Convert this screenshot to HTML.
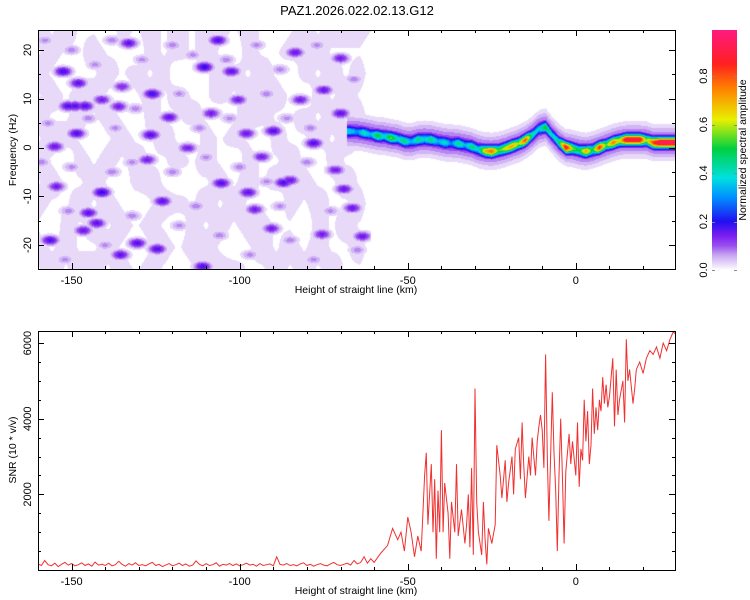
<!DOCTYPE html>
<html><head><meta charset="utf-8"><style>
html,body{margin:0;padding:0;background:#fff;}
#wrap{position:relative;width:750px;height:600px;overflow:hidden;font-family:"Liberation Sans",sans-serif;}
canvas{position:absolute;left:38px;top:30px;}
svg{position:absolute;left:0;top:0;}
</style></head><body>
<div id="wrap">
<canvas id="cv" width="637" height="239"></canvas>
<svg id="sv" width="750" height="600"></svg>
</div>
<script>
// ---- data ----
const ridgeKm  = [-67,-65,-63,-61,-59,-57,-55,-53,-51,-49,-47,-45,-43,-41,-39,-37,-35,-33,-31,-29,-27,-25,-23,-21,-19,-17,-15,-13,-11,-9,-7,-5,-3,-1,1,3,5,7,9,11,13,15,17,19,21,23,25,27,29.5];
const ridgeHz  = [3.3,3.2,3.0,2.7,2.4,2.3,2.0,1.8,1.3,1.2,1.6,1.7,1.6,1.3,1.0,0.9,0.8,0.5,0.2,-0.4,-0.7,-0.8,-0.6,-0.2,0.3,0.8,1.5,2.5,3.8,4.2,2.5,1.0,0.0,-0.2,-0.6,-0.8,-0.5,0.0,0.5,1.0,1.4,1.6,1.6,1.6,1.5,1.0,1.0,1.0,1.0];
const ridgeAmp = [0.4,0.32,0.45,0.35,0.55,0.4,0.58,0.42,0.5,0.35,0.5,0.4,0.5,0.35,0.45,0.3,0.5,0.35,0.5,0.4,0.7,0.82,0.55,0.65,0.75,0.6,0.85,0.45,0.4,0.55,0.4,0.5,0.95,0.6,0.5,0.75,0.5,0.9,0.55,0.8,0.65,0.95,0.95,0.95,0.6,0.85,1.0,1.0,1.0];
const noiseGrid = [
"2121102121212212101212221",
"1211211021212102112121110",
"2101121212011221210212120",
"1212210121211212121021210",
"2112121021121012211212120",
"1221012112102121021121210",
"2102121211212102112102110",
"1211210221011212121211210",
"2112121012212121102121120",
"1021212121021212211021210",
"2121121012122101212121120",
"1212212121011221121212110"
];
const blobKm = [-152.5,-148,-149,-148.5,-155,-156.4,-141,-145,-142.5,-133,-126,-126.5,-121,-130.5,-124.5,-123,-135.5,-110.5,-106.5,-102.5,-105.5,-97.5,-98,-90,-87,-83.5,-78,-75,-70,-69,-66.5,-63.5,-70,-82,-85,-111,-75.5,-95.5,-115.5,-108.5,-100.5,-136,-135,-127.5,-146.5,-154.5,-141,-93.5,-90.5,-71.5,-151,-146,
-158,-150,-143,-138,-129,-120,-114,-104,-95,-88,-77,-66,-157,-145,-137,-131,-118,-112,-103,-92,-86,-79,-66,-159,-150,-138,-132,-120,-110,-100,-92,-80,-73,-151,-140,-132,-118,-106,-97,-85,-78,-65,-152,-113,-88];
const blobHz = [15.6,13.2,8.5,2.9,0.2,-19,-9.2,-13.4,-15.5,21.4,11,2.6,6.2,-19.6,-20.8,-11,-22,16.5,22,15.6,-7.3,-9.2,2.9,3.4,-7.2,19.5,0.9,11.8,7,-8.5,-12.4,-18.2,18.3,9.8,-6.7,-24.4,-17.8,-12.7,-0.1,7,9.8,8.4,12.5,-2.5,-17,-8,9.8,-1.9,-16.6,-4.6,8.5,8.5,
22,20,17,22,18,21,19,18,21,16,21,14,5,6,4,8,11,4,6,11,6,4,2,-3,-4,-5,-3,-5,-2,-4,-7,-3,-13,-13,-20,-14,-16,-18,-22,-19,-23,-21,-23,-12,-12];
const blobAmp = [0.2,0.18,0.19,0.19,0.17,0.19,0.21,0.18,0.18,0.18,0.2,0.19,0.18,0.19,0.19,0.18,0.18,0.21,0.19,0.18,0.19,0.18,0.17,0.19,0.19,0.17,0.19,0.17,0.18,0.17,0.17,0.17,0.16,0.16,0.17,0.19,0.16,0.16,0.16,0.16,0.16,0.16,0.15,0.16,0.17,0.16,0.16,0.16,0.16,0.16,0.19,0.19,
0.085,0.09,0.085,0.09,0.085,0.09,0.085,0.09,0.085,0.09,0.085,0.09,0.085,0.09,0.085,0.09,0.085,0.09,0.085,0.09,0.085,0.09,0.085,0.09,0.085,0.09,0.085,0.09,0.085,0.09,0.085,0.09,0.085,0.09,0.085,0.09,0.085,0.09,0.085,0.09,0.085,0.09,0.085,0.09,0.085];
const snrFlat = [160,120,250,140,110,180,90,150,200,130,170,110,140,190,120,160,100,210,130,150,120,180,110,140,230,150,100,170,130,190,120,140,110,160,200,120,150,90,130,170,110,140,180,120,160,100,130,240,150,110,170,120,140,190,100,150,130,170,120,160,110,140,180,130,150,100,170,120,140,160,110,350,150,130,170,120,140,110,160,190,120,150,100,140,170,130,110,160,200,140,120,150,180,130,250,160,200,350,180,300];
const snrKm = [-60,-58,-56,-54.5,-53,-52,-51,-50,-49,-48,-47,-46,-45,-44.5,-44,-43,-42.5,-42,-41.5,-41,-40.5,-40,-39.5,-39,-38,-37.5,-37,-36,-35.5,-35,-34,-33,-32.5,-32,-31.5,-31,-30.5,-30,-29.5,-29,-28,-27.5,-27,-26.5,-26,-25,-24,-23.5,-22.5,-22,-21,-20.5,-20,-19,-18.5,-18,-17,-16.5,-16,-15.5,-15,-14,-13.5,-13,-12,-11.5,-11,-10.5,-10,-9.5,-9,-8.5,-8,-7.5,-7,-6.5,-6,-5.5,-5,-4.5,-4,-3.5,-3,-2,-1.5,-1,0,0.5,1,1.5,2,2.5,3,3.5,4,4.5,5,5.5,6,6.5,7,7.5,8,8.5,9,9.5,10,11,11.5,12,12.5,13,14,14.5,15,15.5,16,17,17.5,18,19,20,21,22,23,24,25,26,27,28,29,29.5];
const snrVal = [200,450,650,1100,800,1000,500,1400,1000,350,900,500,2500,3100,1200,2800,1000,2400,300,2100,1000,3700,1000,2300,1500,300,1800,1000,2800,900,1600,700,1200,2000,600,2700,400,4800,1800,1000,400,1800,800,150,1100,700,1200,3300,2500,1900,2900,1800,2300,3000,2000,3200,3500,2400,3900,2800,1900,3000,2500,3500,2500,3400,3800,4100,3700,2700,5700,3000,1300,3000,4700,3100,2100,500,2500,4000,2500,700,2600,3600,2800,3400,2500,3900,2200,3200,2900,4500,3400,4200,2800,3300,4800,3600,4300,3700,4500,4200,5100,4400,4900,4300,4600,5600,3800,5300,4100,4500,5000,3900,6100,5000,5300,4400,4800,5300,5500,5200,5600,5800,5700,5900,5600,6000,5800,6100,6300,6250];
const xTicks=[-150,-100,-50,0];
const fTicks=[-20,-10,0,10,20];
const sTicks=[2000,4000,6000];
const cTicks=[0.0,0.2,0.4,0.6,0.8];

// ---- scales ----
const X0=38,X1=675,KMIN=-160,KMAX=29.5;
const TY0=30,TY1=269,FMAX=24.1,FMIN=-24.9;
const BY0=331,BY1=570,SMAX=6320;
const xs=k=>X0+(k-KMIN)/(KMAX-KMIN)*(X1-X0);
const fs=f=>TY0+(FMAX-f)/(FMAX-FMIN)*(TY1-TY0);
const ss=v=>BY1-v/SMAX*(BY1-BY0);
const CB0=270,CB1=30,CMAX=0.99;
const cs=v=>CB0-v/CMAX*(CB0-CB1);

const stops=[[0,[255,255,255]],[0.02,[236,224,250]],[0.06,[201,168,242]],[0.10,[154,80,238]],[0.14,[125,31,240]],[0.2,[32,16,240]],[0.3,[0,144,255]],[0.38,[0,224,224]],[0.5,[0,208,64]],[0.62,[232,240,0]],[0.75,[255,128,0]],[0.85,[255,32,32]],[1.0,[255,26,128]]];
function cmap(v){v=Math.max(0,Math.min(1,v));for(let i=1;i<stops.length;i++){if(v<=stops[i][0]){const a=stops[i-1],b=stops[i],t=(v-a[0])/(b[0]-a[0]);return a[1].map((c,j)=>Math.round(c+(b[1][j]-c)*t));}}return stops[stops.length-1][1];}
function interp(xa,ya,x){if(x<=xa[0])return ya[0];for(let i=1;i<xa.length;i++){if(x<=xa[i]){const t=(x-xa[i-1])/(xa[i]-xa[i-1]);return ya[i-1]+(ya[i]-ya[i-1])*t;}}return ya[ya.length-1];}

// ---- heatmap ----
const cv=document.getElementById('cv'),ctx=cv.getContext('2d');
const W=cv.width,H=cv.height,img=ctx.createImageData(W,H);
const rows=noiseGrid.length,cols=noiseGrid[0].length;
function gridVal(k,f){
  const gx=(k+160)/100*(cols-1), gy=(FMAX-f)/(FMAX-FMIN)*(rows-1);
  const x0=Math.max(0,Math.min(cols-2,Math.floor(gx))),y0=Math.max(0,Math.min(rows-2,Math.floor(gy)));
  const tx=Math.min(1,Math.max(0,gx-x0)),ty=Math.min(1,Math.max(0,gy-y0));
  const g=(r,c)=>+noiseGrid[r][c];
  return (g(y0,x0)*(1-tx)+g(y0,x0+1)*tx)*(1-ty)+(g(y0+1,x0)*(1-tx)+g(y0+1,x0+1)*tx)*ty;
}
for(let py=0;py<H;py++){
  const f=FMAX-(py+0.5)/H*(FMAX-FMIN);
  for(let px=0;px<W;px++){
    const k=KMIN+(px+0.5)/W*(KMAX-KMIN);
    let v=0;
    if(k<-61){
      v=gridVal(k,f)*0.021;
      for(let i=0;i<blobKm.length;i++){
        const dk=(k-blobKm[i])/2.6,df=(f-blobHz[i])/1.0;
        const b=blobAmp[i]*Math.exp(-dk*dk-df*df);
        if(b>v)v=b;
      }
    }
    if(k>=-68){
      const fc=interp(ridgeKm,ridgeHz,k),a=interp(ridgeKm,ridgeAmp,k);
      const d=(f-fc);
      const core=a*Math.exp(-(d/1.15)*(d/1.15));
      const halo=0.13*Math.exp(-(d/3)*(d/3));
      v=Math.max(v,core,halo);
    }
    const q=v<0.2?Math.floor(v/0.025)*0.025:Math.floor(v/0.05)*0.05;
    const c=cmap(q),o=(py*W+px)*4;
    img.data[o]=c[0];img.data[o+1]=c[1];img.data[o+2]=c[2];img.data[o+3]=255;
  }
}
ctx.putImageData(img,0,0);

// ---- svg ----
const NS='http://www.w3.org/2000/svg',sv=document.getElementById('sv');
function mk(tag,at,txt){const e=document.createElementNS(NS,tag);for(const k in at)e.setAttribute(k,at[k]);if(txt!=null)e.textContent=txt;sv.appendChild(e);return e;}
function line(x1,y1,x2,y2,c){return mk('line',{x1,y1,x2,y2,stroke:c||'#000','stroke-width':1});}

let e;
e=mk('text',{x:357,y:15,'text-anchor':'middle','font-size':13},'PAZ1.2026.022.02.13.G12');


// SNR line
let d='';
snrFlat.forEach((v,i)=>{d+=(i?'L':'M')+xs(-160+i).toFixed(1)+','+ss(v).toFixed(1);});
snrKm.forEach((k,i)=>{d+='L'+xs(k).toFixed(1)+','+ss(snrVal[i]).toFixed(1);});
e=mk('path',{d,fill:'none',stroke:'#f03030','stroke-width':1});


function frame(y0,y1,name){
  e=mk('rect',{x:X0+0.5,y:y0+0.5,width:X1-X0,height:y1-y0,fill:'none',stroke:'#000','stroke-width':1});
  
  for(let k=-160;k<=29;k+=10){const x=Math.round(xs(k))+0.5,L=(k%50===0)?6:3;line(x,y1,x,y1-L);line(x,y0,x,y0+L);}
  xTicks.forEach(k=>{const t=mk('text',{x:xs(k),y:y1+15,'text-anchor':'middle','font-size':11},String(k));
    });
  const t=mk('text',{x:356,y:y1+24,'text-anchor':'middle','font-size':10.5},'Height of straight line (km)');
  
}
frame(TY0,TY1,'spectrogram-frame');
frame(BY0,BY1,'snr-frame');

for(let f=-20;f<=20;f+=5){const y=Math.round(fs(f))+0.5,L=f%10===0?6:3;line(X0,y,X0+L,y);line(X1,y,X1-L,y);}
fTicks.forEach(f=>{const y=fs(f);const t=mk('text',{x:31,y:y,'text-anchor':'middle','font-size':11,transform:`rotate(-90 31 ${y})`},String(f));
  });
e=mk('text',{x:16,y:150,'text-anchor':'middle','font-size':10.5,transform:'rotate(-90 16 150)'},'Frequency (Hz)');


for(let v=500;v<=6000;v+=500){const y=Math.round(ss(v))+0.5,L=v%2000===0?6:3;line(X0,y,X0+L,y);line(X1,y,X1-L,y);}
sTicks.forEach(v=>{const y=ss(v);const t=mk('text',{x:31,y:y,'text-anchor':'middle','font-size':11,transform:`rotate(-90 31 ${y})`},String(v));
  });
e=mk('text',{x:16,y:450,'text-anchor':'middle','font-size':10.5,transform:'rotate(-90 16 450)'},'SNR (10 * v/v)');


// colorbar
const defs=mk('defs',{});
const lg=document.createElementNS(NS,'linearGradient');lg.setAttribute('id','cg');lg.setAttribute('x1',0);lg.setAttribute('y1',1);lg.setAttribute('x2',0);lg.setAttribute('y2',0);
defs.appendChild(lg);
stops.forEach(s=>{const st=document.createElementNS(NS,'stop');st.setAttribute('offset',Math.min(1,s[0]/CMAX));st.setAttribute('stop-color',`rgb(${s[1].join(',')})`);lg.appendChild(st);});
e=mk('rect',{x:712,y:CB1,width:25,height:CB0-CB1,fill:'url(#cg)'});

cTicks.forEach(v=>{const y=cs(v);line(712,Math.round(y)+0.5,715,Math.round(y)+0.5,'#888');line(734,Math.round(y)+0.5,737,Math.round(y)+0.5,'#888');
  const t=mk('text',{x:707,y:y,'text-anchor':'middle','font-size':11,transform:`rotate(-90 707 ${y})`},v.toFixed(1));
  });
e=mk('text',{x:746,y:150,'text-anchor':'middle','font-size':10.5,transform:'rotate(-90 746 150)'},'Normalized spectral amplitude');

</script>
</body></html>
